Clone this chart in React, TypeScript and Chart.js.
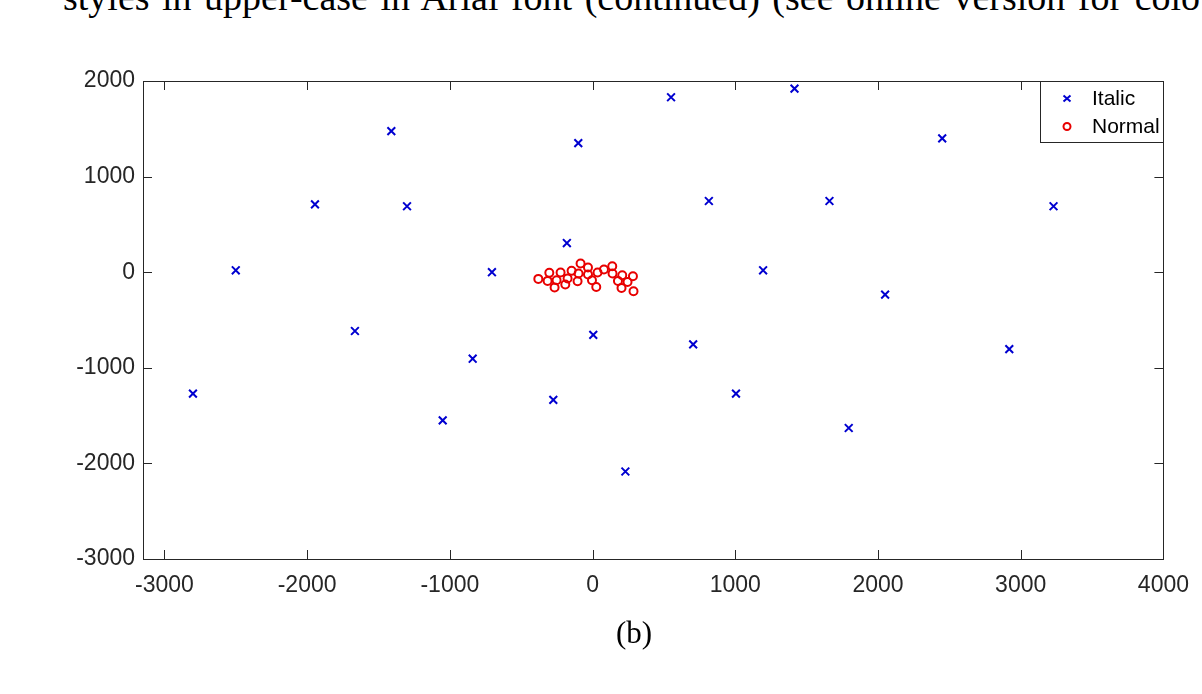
import React, { useEffect, useRef } from "react";
import { Chart, registerables } from "chart.js";

Chart.register(...registerables);

const seriesNames = ["Italic", "Normal"];

const italicX = [-2800, -2500, -1945, -1410, -1300, -1665, -1050, -840, -705, -180, -100, -275, 5, 230, 550, 815, 705, 1005, 1195, 1415, 1660, 1795, 2050, 2450, 2920, 3230];
const italicY = [-1270, 20, 710, 1475, 690, -615, -1550, -905, 0, 305, 1350, -1335, -655, -2085, 1830, 745, -755, -1270, 20, 1920, 745, -1630, -235, 1400, -805, 690];

const normalX = [-380, -315, -303, -266, -252, -224, -191, -175, -147, -105, -98, -84, -32, -32, -4, 26, 35, 80, 138, 140, 178, 208, 203, 245, 283, 287];
const normalY = [-70, -91, -7, -160, -84, -3, -129, -66, 14, -94, -14, 91, 49, -24, -84, -154, -3, 28, 63, -14, -91, -31, -164, -102, -42, -199];

const xTicks = [-3000, -2000, -1000, 0, 1000, 2000, 3000, 4000];
const yTicks = [-3000, -2000, -1000, 0, 1000, 2000];

const captionTop = "styles in upper-case in Arial font (continued) (see online version for colo";
const captionBottom = "(b)";

const AXIS_COLOR = "#262626";
const BLUE = "#0000D0";
const RED = "#E80000";

const framePlugin = {
  id: "matlabFrame",
  afterDatasetsDraw(chart: any) {
    const { ctx, chartArea } = chart;
    const { left, right, top, bottom } = chartArea;
    const xs = chart.scales.x;
    const ys = chart.scales.y;
    ctx.save();
    ctx.strokeStyle = AXIS_COLOR;
    ctx.lineWidth = 1;
    const tl = 9;
    ctx.beginPath();
    for (const v of xTicks) {
      const px = Math.round(xs.getPixelForValue(v)) + 0.5;
      ctx.moveTo(px, bottom);
      ctx.lineTo(px, bottom - tl);
      ctx.moveTo(px, top);
      ctx.lineTo(px, top + tl);
    }
    for (const v of yTicks) {
      const py = Math.round(ys.getPixelForValue(v)) + 0.5;
      ctx.moveTo(left, py);
      ctx.lineTo(left + tl, py);
      ctx.moveTo(right, py);
      ctx.lineTo(right - tl, py);
    }
    ctx.stroke();
    ctx.strokeRect(Math.round(left) + 0.5, Math.round(top) + 0.5, Math.round(right - left), Math.round(bottom - top));

    // legend box inside the top-right corner
    const lw = 123;
    const lh = 61;
    const lx = Math.round(right) - lw;
    const ly = Math.round(top);
    ctx.fillStyle = "#ffffff";
    ctx.fillRect(lx, ly, lw, lh);
    ctx.strokeRect(lx + 0.5, ly + 0.5, lw, lh);
    ctx.font = "21px 'Liberation Sans', Arial, sans-serif";
    ctx.textBaseline = "middle";
    ctx.textAlign = "left";
    const rows = [ly + 17.5, ly + 45.5];
    const mx = lx + 27;
    ctx.lineWidth = 2;
    ctx.strokeStyle = BLUE;
    ctx.beginPath();
    ctx.moveTo(mx - 3.5, rows[0] - 3);
    ctx.lineTo(mx + 3.5, rows[0] + 3);
    ctx.moveTo(mx + 3.5, rows[0] - 3);
    ctx.lineTo(mx - 3.5, rows[0] + 3);
    ctx.stroke();
    ctx.strokeStyle = RED;
    ctx.beginPath();
    ctx.arc(mx, rows[1], 3.5, 0, Math.PI * 2);
    ctx.stroke();
    ctx.fillStyle = "#000000";
    ctx.fillText(seriesNames[0], lx + 52, rows[0] + 1);
    ctx.fillText(seriesNames[1], lx + 52, rows[1] + 1);
    ctx.restore();
  },
};

export default function App() {
  const canvasRef = useRef<HTMLCanvasElement | null>(null);

  useEffect(() => {
    if (!canvasRef.current) return;
    const italicData = italicX.map((x, i) => ({ x, y: italicY[i] }));
    const normalData = normalX.map((x, i) => ({ x, y: normalY[i] }));
    const tickFont = { family: "'Liberation Sans', Arial, sans-serif", size: 23 };
    const chart = new Chart(canvasRef.current, {
      type: "scatter",
      data: {
        datasets: [
          {
            label: seriesNames[0],
            data: italicData,
            pointStyle: "crossRot",
            pointRadius: 5.5,
            borderColor: BLUE,
            backgroundColor: BLUE,
            borderWidth: 2,
          },
          {
            label: seriesNames[1],
            data: normalData,
            pointStyle: "circle",
            pointRadius: 4,
            borderColor: RED,
            backgroundColor: "rgba(0,0,0,0)",
            borderWidth: 2,
          },
        ],
      },
      options: {
        animation: false,
        responsive: true,
        maintainAspectRatio: false,
        layout: { padding: { left: 0, top: 81, right: 38, bottom: 75 } },
        plugins: { legend: { display: false }, tooltip: { enabled: false } },
        scales: {
          x: {
            type: "linear",
            min: -3150,
            max: 4000,
            afterBuildTicks: (s: any) => {
              s.ticks = xTicks.map((v) => ({ value: v }));
            },
            afterFit: (s: any) => {
              s.height = 60;
            },
            grid: { display: false, drawTicks: false },
            border: { display: false },
            ticks: {
              font: tickFont,
              color: AXIS_COLOR,
              padding: 13,
              maxRotation: 0,
              autoSkip: false,
              callback: (v: any) => String(v),
            },
          },
          y: {
            type: "linear",
            min: -3000,
            max: 2000,
            afterBuildTicks: (s: any) => {
              s.ticks = yTicks.map((v) => ({ value: v }));
            },
            afterFit: (s: any) => {
              s.width = 143;
            },
            grid: { display: false, drawTicks: false },
            border: { display: false },
            ticks: {
              font: tickFont,
              color: AXIS_COLOR,
              padding: 8,
              autoSkip: false,
              callback: (v: any) => String(v),
            },
          },
        },
      },
      plugins: [framePlugin],
    });
    return () => chart.destroy();
  }, []);

  return (
    <div style={{ position: "absolute", left: 0, top: 0, width: 1202, height: 694, overflow: "hidden", background: "#fff" }}>
      <div
        style={{
          position: "absolute",
          left: 63,
          top: -22,
          whiteSpace: "nowrap",
          fontFamily: "'Liberation Serif', 'Times New Roman', serif",
          fontSize: 38,
          wordSpacing: 3,
          color: "#000",
          lineHeight: "38px",
        }}
      >
        {captionTop}
      </div>
      <div style={{ position: "absolute", left: 0, top: 0, width: 1202, height: 694 }}>
        <canvas ref={canvasRef} />
      </div>
      <div
        style={{
          position: "absolute",
          left: 0,
          width: 1268,
          top: 613,
          textAlign: "center",
          fontFamily: "'Liberation Serif', 'Times New Roman', serif",
          fontSize: 31,
          lineHeight: "40px",
          color: "#000",
        }}
      >
        {captionBottom}
      </div>
    </div>
  );
}
